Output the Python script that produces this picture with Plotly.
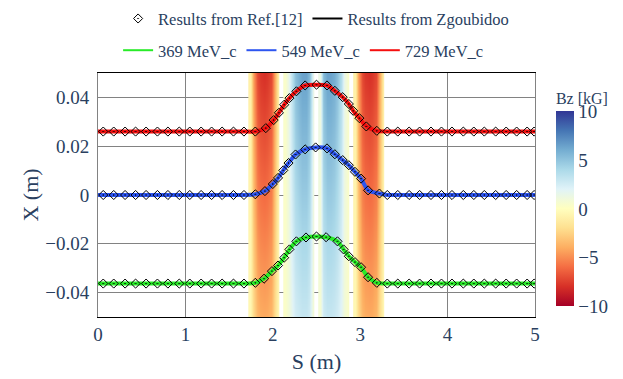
import plotly.graph_objects as go

FONT = "'Liberation Serif', 'Times New Roman', Tinos, 'DejaVu Serif', serif"
TXT = "#2a3f5f"

# ---------------- data ----------------
# Reference points (Ref.[12]) : S (m) and X (m)
s_flat_left = [0.06, 0.18, 0.31, 0.43, 0.55, 0.68, 0.80, 0.93, 1.05, 1.18, 1.30, 1.42, 1.55, 1.67]
s_flat_right = [3.31, 3.43, 3.56, 3.68, 3.81, 3.93, 4.05, 4.18, 4.30, 4.42, 4.55, 4.67, 4.79, 4.91, 4.99]

red_base = 0.0260
red_ramp_s = [1.80, 1.92, 2.01, 2.07, 2.13, 2.19, 2.27, 2.37, 2.50, 2.62, 2.71, 2.80, 2.87, 2.92, 2.99, 3.07, 3.19]
red_ramp_x = [0.0260, 0.0274, 0.0307, 0.0337, 0.0370, 0.0397, 0.0425, 0.0449, 0.0452, 0.0449, 0.0427,
              0.0401, 0.0373, 0.0345, 0.0315, 0.0281, 0.0263]

blue_base = 0.0
blue_ramp_s = [1.80, 1.91, 2.00, 2.06, 2.12, 2.18, 2.26, 2.37, 2.49, 2.62, 2.71, 2.80, 2.87, 2.94, 3.01, 3.09, 3.22]
blue_ramp_x = [0.0003, 0.0016, 0.0045, 0.0070, 0.0101, 0.0131, 0.0166, 0.0187, 0.0195, 0.0191, 0.0167,
               0.0143, 0.0122, 0.0095, 0.0067, 0.0019, 0.0006]

green_base = -0.0363
green_ramp_s = [1.80, 1.90, 1.99, 2.06, 2.13, 2.19, 2.27, 2.38, 2.50, 2.61, 2.74, 2.81, 2.87, 2.94, 3.01, 3.09, 3.19]
green_ramp_x = [-0.0360, -0.0343, -0.0312, -0.0289, -0.0257, -0.0223, -0.0190, -0.0174, -0.0170, -0.0173,
                -0.0190, -0.0223, -0.0251, -0.0275, -0.0296, -0.0337, -0.0360]

s_ends = [0.0, 5.0]

# Field map Bz [kG]: magnet entrance positions and column centres inside one 0.36 m magnet
magnet_start = [1.72, 2.12, 2.52, 2.92]
col_offset = [0.02, 0.06, 0.10, 0.14, 0.18, 0.22, 0.26, 0.30, 0.34]
map_rows_x = [-0.05, 0.05]
bz_red_bottom = [-0.5, -2.2, -3.6, -4.0, -4.1, -4.0, -3.6, -2.2, -0.5]
bz_red_top = [-1.0, -4.5, -7.2, -7.8, -8.0, -7.8, -7.2, -4.5, -1.0]
bz_blue_bottom = [0.3, 0.8, 1.8, 2.5, 2.8, 3.0, 3.0, 2.6, 0.7]
bz_blue_top = [0.4, 1.4, 3.6, 5.2, 6.0, 6.4, 6.4, 5.4, 1.3]

legend_names = ["369 MeV_c", "549 MeV_c", "729 MeV_c"]
line_colors = ["rgb(40,235,40)", "rgb(45,85,240)", "rgb(245,15,15)"]
bz_ticks = [-10, -5, 0, 5, 10]

rdylbu = ["#a50026", "#d73027", "#f46d43", "#fdae61", "#fee090", "#ffffbf",
          "#e0f3f8", "#abd9e9", "#74add1", "#4575b4", "#313695"]
colorscale = [[i / 10, c] for i, c in enumerate(rdylbu)]

fig = go.Figure()

# ---------------- field map ----------------
magnet_fields = [
    (bz_red_bottom, bz_red_top),
    (bz_blue_bottom, bz_blue_top),
    (bz_blue_bottom[::-1], bz_blue_top[::-1]),
    (bz_red_bottom[::-1], bz_red_top[::-1]),
]
for start, (bot, top) in zip(magnet_start, magnet_fields):
    fig.add_trace(go.Heatmap(
        x=[start + o for o in col_offset], y=map_rows_x, z=[bot, top],
        coloraxis="coloraxis", zsmooth="best", hoverinfo="skip", showlegend=False))

# ---------------- trajectories ----------------
curves = [
    (green_base, green_ramp_s, green_ramp_x),
    (blue_base, blue_ramp_s, blue_ramp_x),
    (red_base, red_ramp_s, red_ramp_x),
]
for (base, rs, rx), col in zip(curves, line_colors):
    s_pts = s_flat_left + rs + s_flat_right
    x_pts = [base] * len(s_flat_left) + rx + [base] * len(s_flat_right)
    fig.add_trace(go.Scatter(
        x=[s_ends[0]] + s_pts + [s_ends[1]], y=[base] + x_pts + [base],
        mode="lines", line=dict(color=col, width=4, shape="spline", smoothing=0.6),
        showlegend=False, hoverinfo="skip"))

for i, ((base, rs, rx), col) in enumerate(zip(curves, line_colors)):
    s_pts = s_flat_left + rs + s_flat_right
    x_pts = [base] * len(s_flat_left) + rx + [base] * len(s_flat_right)
    fig.add_trace(go.Scatter(
        x=s_pts, y=x_pts, mode="markers",
        marker=dict(symbol="diamond-open-dot", size=7, color="black", line=dict(width=1, color="black")),
        name="Results from Ref.[12]", legendgroup="ref", showlegend=(i == 0), legend="legend"))

# legend-only entries
fig.add_trace(go.Scatter(x=[None], y=[None], mode="lines", line=dict(color="black", width=2),
                         name="Results from Zgoubidoo", legend="legend"))
for name, col in zip(legend_names, line_colors):
    fig.add_trace(go.Scatter(x=[None], y=[None], mode="lines", line=dict(color=col, width=2),
                             name=name, legend="legend2"))

axis_font = dict(family=FONT, size=19, color=TXT)
title_font = dict(family=FONT, size=22, color=TXT)
leg_font = dict(family=FONT, size=16.5, color=TXT)

fig.update_layout(
    width=623, height=379,
    margin=dict(l=98, r=88, t=73, b=62, autoexpand=False),
    paper_bgcolor="white", plot_bgcolor="white",
    font=dict(family=FONT, color=TXT),
    xaxis=dict(range=[0, 5], dtick=1, showgrid=True, gridcolor="rgb(130,130,130)", gridwidth=1,
               zeroline=False, showline=True, linecolor="black", linewidth=1, mirror=True,
               ticks="", tickfont=axis_font, title=dict(text="S (m)", font=title_font, standoff=9)),
    yaxis=dict(range=[-0.05, 0.05], dtick=0.02, showgrid=True, gridcolor="rgb(130,130,130)", gridwidth=1,
               zeroline=False, showline=True, linecolor="rgb(130,130,130)", linewidth=1, mirror=True,
               ticks="outside", ticklen=4, tickcolor="rgba(0,0,0,0)", tickfont=axis_font,
               title=dict(text="X (m)", font=title_font, standoff=0)),
    coloraxis=dict(
        colorscale=colorscale, cmin=-10, cmax=10,
        colorbar=dict(title=dict(text="Bz [kG]", side="top", font=dict(family=FONT, size=16, color=TXT)),
                      tickvals=bz_ticks, tickfont=axis_font, thickness=18, outlinewidth=0,
                      x=1.025, xanchor="left", xpad=10, len=0.97, y=0.488, yanchor="middle", ypad=10)),
    legend=dict(orientation="h", x=0.046, xanchor="left", y=1.294, yanchor="top",
                font=leg_font, bgcolor="rgba(0,0,0,0)"),
    legend2=dict(orientation="h", x=0.046, xanchor="left", y=1.164, yanchor="top",
                 font=leg_font, bgcolor="rgba(0,0,0,0)"),
)

fig.write_html("out.html", config={"displayModeBar": False},
               post_script="document.body.style.margin='0px';")
